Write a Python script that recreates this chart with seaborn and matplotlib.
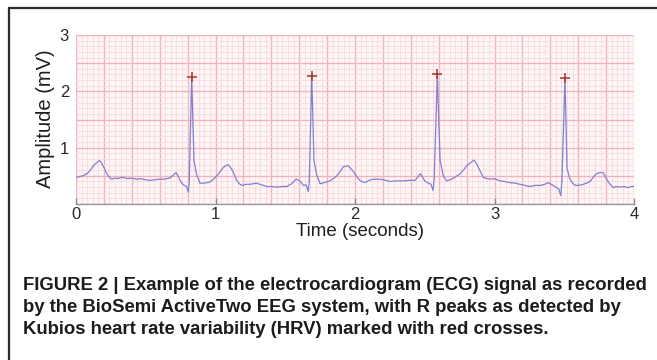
import numpy as np
import pandas as pd
import matplotlib
matplotlib.use("Agg")
import matplotlib.pyplot as plt
import seaborn as sns
from matplotlib.ticker import MultipleLocator, FuncFormatter
from matplotlib.lines import Line2D
from matplotlib import font_manager

# ---------------- data ----------------
time_s = [
    0.00, 0.03, 0.05, 0.08, 0.10, 0.12, 0.14, 0.167, 0.18, 0.196, 0.215, 0.23, 0.256, 0.28, 0.30,
    0.32, 0.34, 0.37, 0.40, 0.435, 0.46, 0.50, 0.53, 0.56, 0.60, 0.626, 0.65, 0.674, 0.70, 0.717,
    0.733, 0.75, 0.77, 0.793, 0.805, 0.812, 0.829, 0.846, 0.865, 0.889, 0.92, 0.96, 0.99, 1.02,
    1.056, 1.09, 1.116, 1.135, 1.152, 1.17, 1.19, 1.22, 1.247, 1.27, 1.295, 1.33, 1.367, 1.40,
    1.44, 1.48, 1.51, 1.546, 1.577, 1.606, 1.63, 1.65, 1.665, 1.672, 1.69, 1.706, 1.725, 1.75,
    1.78, 1.82, 1.85, 1.87, 1.90, 1.916, 1.95, 1.97, 1.99, 2.02, 2.04, 2.07, 2.11, 2.14, 2.18,
    2.22, 2.25, 2.29, 2.346, 2.39, 2.43, 2.47, 2.50, 2.525, 2.545, 2.56, 2.568, 2.59, 2.61,
    2.633, 2.657, 2.68, 2.70, 2.75, 2.78, 2.80, 2.853, 2.87, 2.884, 2.92, 2.95, 2.97, 3.00,
    3.04, 3.07, 3.11, 3.15, 3.18, 3.22, 3.25, 3.29, 3.33, 3.36, 3.386, 3.42, 3.45, 3.46, 3.475,
    3.483, 3.505, 3.52, 3.54, 3.56, 3.58, 3.60, 3.625, 3.66, 3.685, 3.71, 3.73, 3.76, 3.78,
    3.80, 3.816, 3.85, 3.87, 3.90, 3.93, 3.95, 3.98, 4.00,
]
amplitude_mv = [
    0.47, 0.49, 0.50, 0.54, 0.59, 0.66, 0.72, 0.77, 0.74, 0.67, 0.57, 0.50, 0.44, 0.46, 0.45,
    0.47, 0.47, 0.45, 0.46, 0.44, 0.45, 0.43, 0.42, 0.43, 0.44, 0.44, 0.45, 0.46, 0.52, 0.56,
    0.49, 0.40, 0.34, 0.31, 0.21, 0.40, 2.25, 0.77, 0.52, 0.37, 0.37, 0.39, 0.45, 0.53,
    0.65, 0.70, 0.62, 0.52, 0.42, 0.36, 0.33, 0.35, 0.35, 0.36, 0.37, 0.34, 0.31, 0.31,
    0.30, 0.31, 0.31, 0.36, 0.44, 0.41, 0.33, 0.34, 0.22, 0.40, 2.27, 0.77, 0.52, 0.36,
    0.38, 0.41, 0.46, 0.50, 0.60, 0.66, 0.68, 0.63, 0.57, 0.46, 0.41, 0.38, 0.43, 0.44, 0.44,
    0.42, 0.40, 0.41, 0.41, 0.42, 0.42, 0.54, 0.41, 0.37, 0.35, 0.24, 0.45, 2.30, 0.77,
    0.50, 0.41, 0.43, 0.45, 0.53, 0.61, 0.68, 0.78, 0.72, 0.65, 0.47, 0.45, 0.44, 0.45,
    0.41, 0.40, 0.38, 0.37, 0.35, 0.33, 0.31, 0.33, 0.33, 0.35, 0.38, 0.33, 0.28, 0.27, 0.15,
    0.40, 2.23, 0.63, 0.45, 0.37, 0.33, 0.33, 0.34, 0.37, 0.40, 0.48, 0.54, 0.56, 0.55,
    0.46, 0.39, 0.29, 0.31, 0.30, 0.31, 0.29, 0.31, 0.31,
]
r_peak_time = [0.829, 1.69, 2.59, 3.505]
r_peak_amp = [2.25, 2.27, 2.30, 2.23]

x_tick_values = [0, 1, 2, 3, 4]
y_tick_values = [1, 2, 3]

x_label = "Time (seconds)"
y_label = "Amplitude (mV)"
caption_lines = [
    "FIGURE 2 | Example of the electrocardiogram (ECG) signal as recorded",
    "by the BioSemi ActiveTwo EEG system, with R peaks as detected by",
    "Kubios heart rate variability (HRV) marked with red crosses.",
]

ecg = pd.DataFrame({"t": time_s, "v": amplitude_mv})
peaks = pd.DataFrame({"t": r_peak_time, "v": r_peak_amp})

# ---------------- style ----------------
sns.set_style("white")
plt.rcParams["font.family"] = ["Liberation Sans", "DejaVu Sans"]

W, H = 657, 360
fig = plt.figure(figsize=(W / 100, H / 100), dpi=100)
fig.patch.set_facecolor("white")

AX_BOTTOM_PX = 204
ax = fig.add_axes([76 / W, 1 - AX_BOTTOM_PX / H, (634 - 76) / W, (AX_BOTTOM_PX - 35) / H])
ax.set_facecolor("#fdf5f6")

sns.lineplot(data=ecg, x="t", y="v", ax=ax, color="#8080d0", lw=0.9,
             estimator=None, sort=False, zorder=3)
sns.scatterplot(data=peaks, x="t", y="v", ax=ax, marker="+", s=55,
                color="#a3352b", linewidth=1.1, zorder=4)

ax.set_xlim(0, 4)
ax.set_ylim(0, 3)

# ECG-paper grid
ax.xaxis.set_major_locator(MultipleLocator(0.2))
ax.xaxis.set_minor_locator(MultipleLocator(0.04))
ax.yaxis.set_major_locator(MultipleLocator(0.5))
ax.yaxis.set_minor_locator(MultipleLocator(0.1))
ax.grid(which="major", color="#f0b4bc", lw=1.0, zorder=1)
ax.grid(which="minor", color="#f8dade", lw=0.6, zorder=0)
ax.set_axisbelow(True)


def fmt_x(val, pos):
    r = round(val)
    return f"{r}" if abs(val - r) < 1e-6 and r in x_tick_values else ""


def fmt_y(val, pos):
    r = round(val)
    return f"{r}" if abs(val - r) < 1e-6 and r in y_tick_values else ""


ax.xaxis.set_major_formatter(FuncFormatter(fmt_x))
ax.yaxis.set_major_formatter(FuncFormatter(fmt_y))
ax.tick_params(axis="both", which="both", length=0, labelsize=12, labelcolor="#2a2a2a")
ax.tick_params(axis="x", pad=2.0)
ax.tick_params(axis="y", pad=5)

for s in ["top", "right", "left"]:
    ax.spines[s].set_visible(False)
ax.spines["bottom"].set_color("#9a9a9a")
ax.spines["bottom"].set_linewidth(1.0)
ax.spines["bottom"].set_zorder(5)

# integer tick marks on the time axis (pointing up into the grid)
ax.plot(x_tick_values, [0] * len(x_tick_values), ls="none", marker=2,
        ms=4, mew=1.0, color="#8a8a8a", clip_on=False, zorder=6)

ax.set_xlabel(x_label, fontsize=13.5, color="#1e1e1e")
ax.set_ylabel(y_label, fontsize=14.5, color="#1e1e1e")
ax.yaxis.set_label_coords((45.5 - 76) / 558, (AX_BOTTOM_PX - 118.5) / (AX_BOTTOM_PX - 35))
ax.yaxis.label.set_va("center")

# ---------------- frame lines ----------------
fig.add_artist(Line2D([9 / W, 1.0], [1 - 8 / H, 1 - 8 / H], transform=fig.transFigure,
                      color="#2b2b2b", lw=1.6))
fig.add_artist(Line2D([9 / W, 9 / W], [1 - 8 / H, 0.0], transform=fig.transFigure,
                      color="#2b2b2b", lw=1.6))

# ---------------- caption ----------------
names = {f.name for f in font_manager.fontManager.ttflist}
cap_family = "Liberation Sans Narrow" if "Liberation Sans Narrow" in names else "Liberation Sans"
baselines = [289.5, 311.8, 334.2]
texts = []
for line, yb in zip(caption_lines, baselines):
    t = fig.text(23 / W, 1 - yb / H, line, ha="left", va="baseline",
                 fontsize=12, fontweight="bold", family=[cap_family, "DejaVu Sans"],
                 color="#1c1c1c")
    texts.append(t)

fig.canvas.draw()
renderer = fig.canvas.get_renderer()
w0 = texts[0].get_window_extent(renderer).width
scale = (645 - 23) / w0
for t in texts:
    t.set_fontsize(12 * scale)

# place the x label just below the tick labels (no overlap)
fig.canvas.draw()
tick_bottoms = [lab.get_window_extent(renderer).y0
                for lab in ax.get_xticklabels() if lab.get_text()]
low_px = min(tick_bottoms)  # display coords, origin bottom-left
ax_bbox = ax.get_window_extent(renderer)
ax.xaxis.set_label_coords(
    (360 - 76) / 558, (low_px - 1 - ax_bbox.y0) / ax_bbox.height)

fig.savefig("out.png", dpi=100, facecolor="white")
